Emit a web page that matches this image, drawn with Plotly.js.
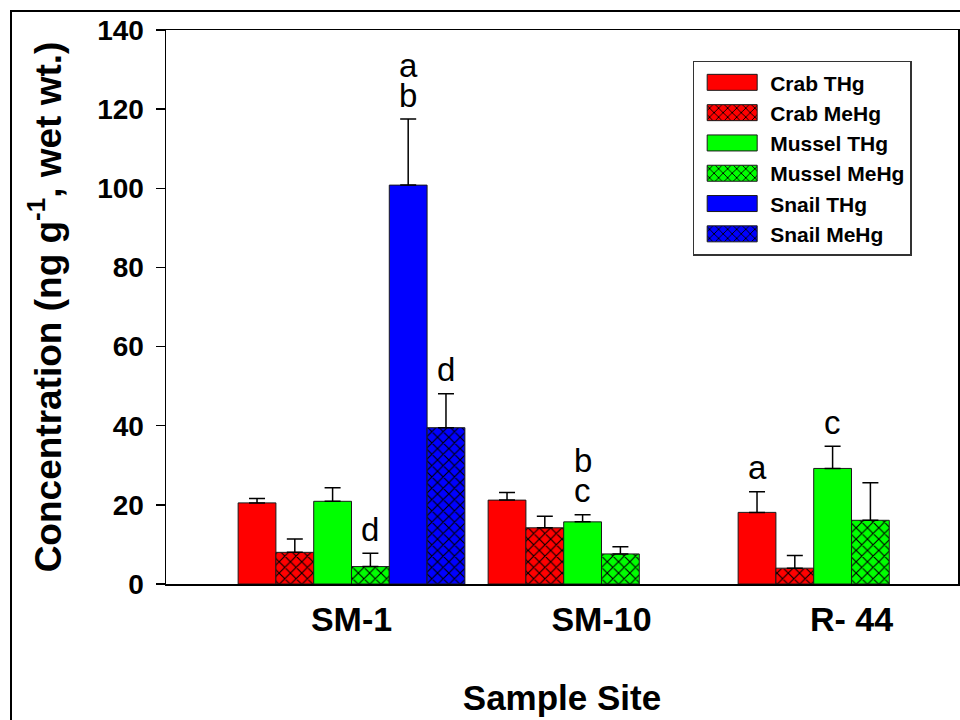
<!DOCTYPE html>
<html>
<head>
<meta charset="utf-8">
<script src="https://cdn.plot.ly/plotly-3.0.1.min.js"></script>
<style>
html, body { margin: 0; padding: 0; background: #fff; overflow: hidden; }
#chart { width: 960px; height: 720px; position: absolute; left: 0; top: 0; }
#frame { position: absolute; left: 10px; top: 10px; width: 1000px; height: 1000px;
         border: 2px solid #000; box-sizing: border-box; pointer-events: none; }
</style>
</head>
<body>
<div id="chart"></div>
<div id="frame"></div>
<script>
// ---- data ----
const sites = ['SM-1', 'SM-10', 'R- 44'];
const seriesNames = ['Crab THg', 'Crab MeHg', 'Mussel THg', 'Mussel MeHg', 'Snail THg', 'Snail MeHg'];

const crabTHg       = [20.5, 21.2, 18.1];
const crabTHgErr    = [1.1, 1.9, 5.2];
const crabMeHg      = [8.0, 14.2, 4.0];
const crabMeHgErr   = [3.4, 2.9, 3.2];
const musselTHg     = [20.9, 15.7, 29.2];
const musselTHgErr  = [3.4, 1.8, 5.6];
const musselMeHg    = [4.4, 7.6, 16.1];
const musselMeHgErr = [3.4, 1.8, 9.5];
const snailTHg      = [100.8, null, null];
const snailTHgErr   = [16.7, null, null];
const snailMeHg     = [39.5, null, null];
const snailMeHgErr  = [8.6, null, null];

// significance letters: site index, series index, stack level (0 = lowest), text
const letterSite   = [0, 0, 0, 0, 1, 1, 2, 2];
const letterSeries = [4, 4, 5, 3, 2, 2, 0, 2];
const letterLevel  = [0, 1, 0, 0, 0, 1, 0, 0];
const letterText   = ['b', 'a', 'd', 'd', 'c', 'b', 'a', 'c'];

const yTickVals = [0, 20, 40, 60, 80, 100, 120, 140];

// ---- styling ----
const values = [crabTHg, crabMeHg, musselTHg, musselMeHg, snailTHg, snailMeHg];
const errors = [crabTHgErr, crabMeHgErr, musselTHgErr, musselMeHgErr, snailTHgErr, snailMeHgErr];
const colors = ['#ff0000', '#ff0000', '#00ff00', '#00ff00', '#0000ff', '#0000ff'];
const hatched = [false, true, false, true, false, true];

const FONT = 'Liberation Sans, Arial, Helvetica, sans-serif';
const BARGAP = 0.093;

const traces = seriesNames.map((name, i) => ({
  type: 'bar',
  name: name,
  x: sites,
  y: values[i],
  marker: {
    color: colors[i],
    line: { color: '#1a1a1a', width: 1 },
    pattern: hatched[i]
      ? { shape: 'x', fgcolor: '#000000', bgcolor: colors[i], size: 8, solidity: 0.26, fillmode: 'replace' }
      : { shape: '' }
  },
  error_y: {
    type: 'data',
    array: errors[i],
    arrayminus: errors[i].map(() => 0),
    symmetric: false,
    color: '#000000',
    thickness: 1.5,
    width: 8
  },
  hoverinfo: 'skip'
}));

// letter annotations, placed on each bar's slot via the group geometry
const nSeries = seriesNames.length;
const slotW = (1 - BARGAP) / nSeries;
const annotations = letterText.map((t, k) => {
  const s = letterSeries[k], site = letterSite[k];
  return {
    xref: 'x', yref: 'y',
    x: site - (1 - BARGAP) / 2 + (s + 0.5) * slotW,
    y: values[s][site] + errors[s][site],
    text: t,
    showarrow: false,
    xanchor: 'center', yanchor: 'middle',
    yshift: 24 + 30 * letterLevel[k],
    font: { family: FONT, size: 33, color: '#000' }
  };
});

const layout = {
  width: 960, height: 720,
  paper_bgcolor: '#ffffff', plot_bgcolor: '#ffffff',
  margin: { l: 166, r: 2, t: 30, b: 136, pad: 0 },
  barmode: 'group',
  bargap: BARGAP,
  bargroupgap: 0,
  showlegend: true,
  font: { family: FONT, color: '#000' },
  xaxis: {
    type: 'category',
    range: [-0.742, 2.426],
    showline: true, mirror: true, linecolor: '#000', linewidth: 1.5,
    ticks: '', showgrid: false, zeroline: false,
    ticklabelstandoff: 5,
    tickfont: { family: FONT, size: 34, weight: 'bold', color: '#000' },
    title: { text: 'Sample Site', font: { family: FONT, size: 35, weight: 'bold', color: '#000' }, standoff: 48 },
    automargin: false, fixedrange: true
  },
  yaxis: {
    range: [0, 140],
    tickvals: yTickVals,
    showline: true, mirror: true, linecolor: '#000', linewidth: 1.5,
    ticks: 'outside', ticklen: 9, tickwidth: 1.5, tickcolor: '#000',
    showgrid: false, zeroline: false,
    ticklabelstandoff: 6,
    tickfont: { family: FONT, size: 28, weight: 'bold', color: '#000' },
    title: { text: 'Concentration (ng g<sup>-1</sup>, wet wt.)', font: { family: FONT, size: 37, weight: 'bold', color: '#000' }, standoff: 24 },
    automargin: false, fixedrange: true
  },
  legend: {
    x: 0.665, y: 0.9446, xanchor: 'left', yanchor: 'top',
    bgcolor: '#ffffff', bordercolor: '#333333', borderwidth: 1.5,
    font: { family: FONT, size: 21, weight: 'bold', color: '#000' },
    itemwidth: 66,
    traceorder: 'normal',
    itemclick: false, itemdoubleclick: false
  },
  annotations: annotations
};

function widenSwatches(gd) {
  // widen the legend colour keys to match the reference's long swatches
  gd.querySelectorAll('.legendpoints path').forEach(p => {
    p.setAttribute('d', 'M25,8H-25V-8H25Z');
  });
}

Plotly.newPlot('chart', traces, layout, { displayModeBar: false, staticPlot: true }).then(gd => {
  widenSwatches(gd);
  gd.on('plotly_afterplot', () => widenSwatches(gd));
  setTimeout(() => widenSwatches(gd), 0);
  setTimeout(() => widenSwatches(gd), 200);
});
</script>
</body>
</html>
